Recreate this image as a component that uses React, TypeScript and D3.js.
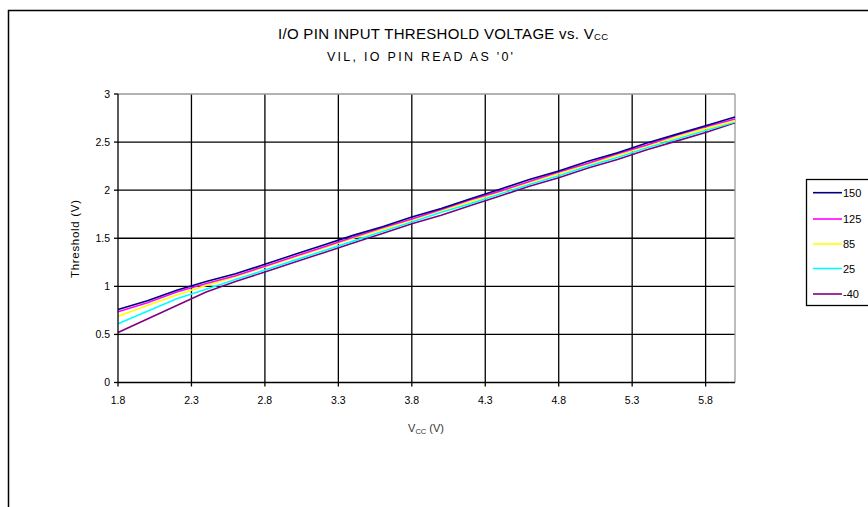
import React from "react";
import * as d3 from "d3";

const vcc = [1.8, 2.0, 2.2, 2.4, 2.6, 2.8, 3.0, 3.2, 3.4, 3.6, 3.8, 4.0, 4.2, 4.4, 4.6, 4.8, 5.0, 5.2, 5.4, 5.6, 5.8, 6.0];
const t150 = [0.76, 0.85, 0.96, 1.05, 1.13, 1.23, 1.33, 1.43, 1.53, 1.62, 1.72, 1.81, 1.91, 2.01, 2.11, 2.2, 2.3, 2.39, 2.49, 2.58, 2.67, 2.76];
const t125 = [0.735, 0.83, 0.94, 1.03, 1.11, 1.21, 1.31, 1.41, 1.51, 1.61, 1.7, 1.8, 1.9, 1.99, 2.09, 2.19, 2.28, 2.38, 2.47, 2.57, 2.66, 2.74];
const t85 = [0.69, 0.8, 0.91, 1.01, 1.1, 1.2, 1.3, 1.4, 1.5, 1.59, 1.69, 1.79, 1.88, 1.98, 2.08, 2.17, 2.27, 2.36, 2.46, 2.55, 2.64, 2.72];
const t25 = [0.61, 0.74, 0.87, 0.97, 1.07, 1.17, 1.27, 1.37, 1.47, 1.57, 1.67, 1.77, 1.86, 1.96, 2.06, 2.15, 2.25, 2.34, 2.44, 2.53, 2.62, 2.71];
const tm40 = [0.52, 0.66, 0.8, 0.94, 1.05, 1.15, 1.25, 1.35, 1.45, 1.55, 1.65, 1.74, 1.84, 1.94, 2.04, 2.13, 2.23, 2.32, 2.42, 2.51, 2.6, 2.7];

const seriesNames = ["150", "125", "85", "25", "-40"];
const seriesColors = ["#000080", "#FF00FF", "#FFFF00", "#00FFFF", "#800080"];
const seriesValues = [t150, t125, t85, t25, tm40];

const xTicks = [1.8, 2.3, 2.8, 3.3, 3.8, 4.3, 4.8, 5.3, 5.8];
const yTicks = [0, 0.5, 1, 1.5, 2, 2.5, 3];

const FONT = "'Liberation Sans', Arial, sans-serif";

export default function App() {
  const W = 868, H = 507;
  const left = 118, right = 735, top = 94, bottom = 382.5;
  const x = d3.scaleLinear().domain([1.8, 6.0]).range([left, right]);
  const y = d3.scaleLinear().domain([0, 3]).range([bottom, top]);
  const line = d3
    .line<[number, number]>()
    .x((d) => x(d[0]))
    .y((d) => y(d[1]));

  const order = [4, 3, 2, 1, 0];

  return (
    <svg
      width={W}
      height={H}
      style={{ position: "absolute", left: 0, top: 0, background: "#fff" }}
      fontFamily={FONT}
    >
      <rect x={0} y={0} width={W} height={H} fill="#fff" />
      <rect x={8.5} y={10.5} width={1000} height={1000} fill="none" stroke="#000" strokeWidth={1.5} />

      <text x={278} y={39} fontSize={15} fill="#000" textLength={330} lengthAdjust="spacing">
        I/O PIN INPUT THRESHOLD VOLTAGE vs. V
        <tspan fontSize={9.5} dy={1}>CC</tspan>
      </text>
      <text x={327} y={61} fontSize={12.5} fill="#000" textLength={186} lengthAdjust="spacing">
        VIL, IO PIN READ AS '0'
      </text>

      {yTicks.filter((v) => v > 0 && v < 3).map((v) => (
        <line key={"gy" + v} x1={left} x2={right} y1={y(v)} y2={y(v)} stroke="#000" strokeWidth={1.3} />
      ))}
      {xTicks.filter((v) => v > 1.8).map((v) => (
        <line key={"gx" + v} x1={x(v)} x2={x(v)} y1={top} y2={bottom} stroke="#000" strokeWidth={1.3} />
      ))}
      <line x1={left} x2={right} y1={top} y2={top} stroke="#999" strokeWidth={1.3} />
      <line x1={right} x2={right} y1={top} y2={bottom} stroke="#999" strokeWidth={1.3} />

      {order.map((i) => (
        <path
          key={seriesNames[i]}
          d={line(vcc.map((v, k) => [v, seriesValues[i][k]]) as [number, number][]) || ""}
          fill="none"
          stroke={seriesColors[i]}
          strokeWidth={1.6}
        />
      ))}

      <line x1={left} x2={left} y1={top} y2={bottom} stroke="#000" strokeWidth={1.3} />
      <line x1={left} x2={right} y1={bottom} y2={bottom} stroke="#000" strokeWidth={1.3} />
      {yTicks.map((v) => (
        <g key={"yt" + v}>
          <line x1={left - 4} x2={left} y1={y(v)} y2={y(v)} stroke="#000" strokeWidth={1.3} />
          <text x={left - 8} y={y(v) + 3.5} textAnchor="end" fontSize={10.5} fill="#000">
            {v}
          </text>
        </g>
      ))}
      {xTicks.map((v) => (
        <g key={"xt" + v}>
          <line x1={x(v)} x2={x(v)} y1={bottom} y2={bottom + 4} stroke="#000" strokeWidth={1.3} />
          <text x={x(v)} y={404} textAnchor="middle" fontSize={10.5} fill="#000">
            {v.toFixed(1)}
          </text>
        </g>
      ))}

      <text
        transform={`translate(79, 239) rotate(-90)`}
        x={-39}
        fontSize={11.5}
        fill="#000"
        textLength={78}
        lengthAdjust="spacing"
      >
        Threshold (V)
      </text>
      <text x={426} y={432} textAnchor="middle" fontSize={11} fill="#333">
        V<tspan fontSize={7.5} dy={2}>CC</tspan>
        <tspan dy={-2}> (V)</tspan>
      </text>

      <rect x={806.5} y={179.5} width={100} height={126} fill="#fff" stroke="#000" strokeWidth={1.3} />
      {seriesNames.map((n, i) => {
        const ly = [192.7, 219, 244, 268.5, 294][i];
        return (
          <g key={"lg" + n}>
            <line x1={813} x2={842} y1={ly} y2={ly} stroke={seriesColors[i]} strokeWidth={1.6} />
            <text x={843} y={ly + 4} fontSize={11} fill="#000">
              {n}
            </text>
          </g>
        );
      })}
    </svg>
  );
}
